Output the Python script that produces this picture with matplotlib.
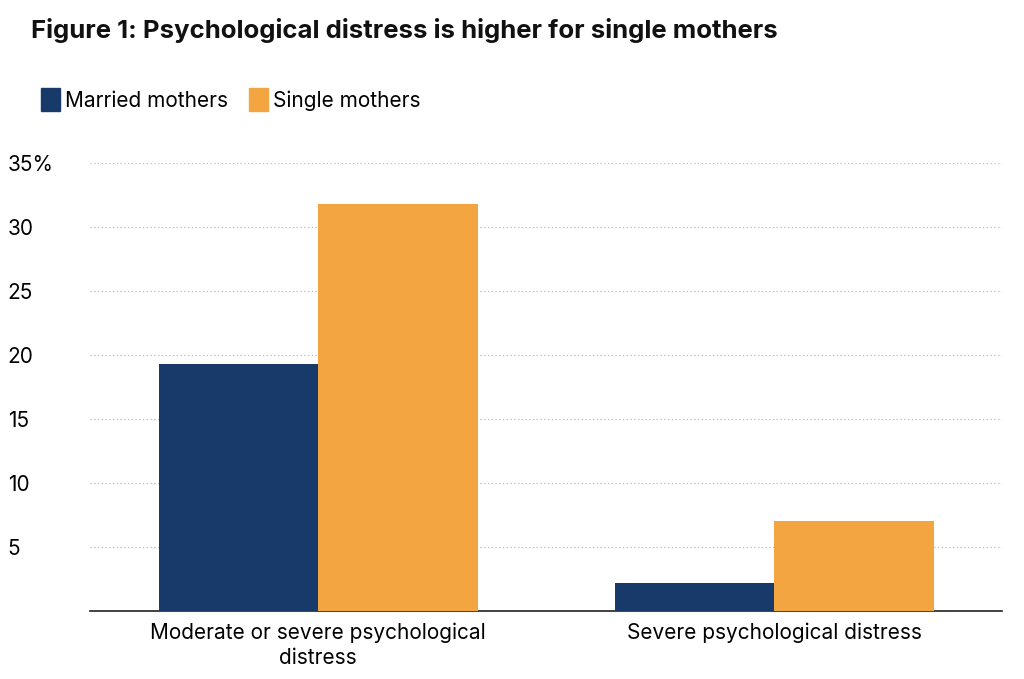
import numpy as np
import matplotlib.pyplot as plt
from matplotlib.patches import Patch

plt.rcParams['font.family'] = ['Inter', 'DejaVu Sans']

categories = ["Moderate or severe psychological\ndistress", "Severe psychological distress"]
married = [19.3, 2.2]
single = [31.8, 7.0]
series_names = ["Married mothers", "Single mothers"]
colors = ["#173a6b", "#f2a541"]

fig = plt.figure(figsize=(10.24, 6.79), dpi=100)
ax = fig.add_axes([0.088, 0.100, 0.891, 0.660])

x = np.arange(len(categories))
w = 0.35
ax.bar(x - w / 2, married, w, color=colors[0], zorder=3)
ax.bar(x + w / 2, single, w, color=colors[1], zorder=3)

ax.set_xlim(-0.5, 1.5)
ax.set_ylim(0, 35)
ax.set_yticks([5, 10, 15, 20, 25, 30, 35])
ax.set_yticklabels(["5", "10", "15", "20", "25", "30", "35%"])
ax.set_xticks(x)
ax.set_xticklabels(categories, fontsize=15, linespacing=1.3)
ax.tick_params(axis="y", labelsize=15, length=0, pad=10)
ax.tick_params(axis="x", length=0, pad=8)
for lab in ax.get_yticklabels():
    lab.set_horizontalalignment("left")
    lab.set_x(-0.075)
ax.grid(axis="y", color="#bbbbbb", linestyle=(0, (1, 2)), linewidth=0.9, zorder=0)
for s in ["top", "right", "left"]:
    ax.spines[s].set_visible(False)
ax.spines["bottom"].set_color("#222222")
ax.spines["bottom"].set_linewidth(1.2)

fig.text(0.030, 0.955, "Figure 1: Psychological distress is higher for single mothers",
         fontsize=18.5, fontweight="bold", va="center", color="#111111")
handles = [Patch(color=c) for c in colors]
fig.legend(handles, series_names, loc="center left", bbox_to_anchor=(0.022, 0.853),
           ncol=2, frameon=False, fontsize=15, handlelength=0.9, handleheight=1.3,
           handletextpad=0.25, columnspacing=1.0)

fig.savefig("out.png", dpi=100, facecolor="white")
